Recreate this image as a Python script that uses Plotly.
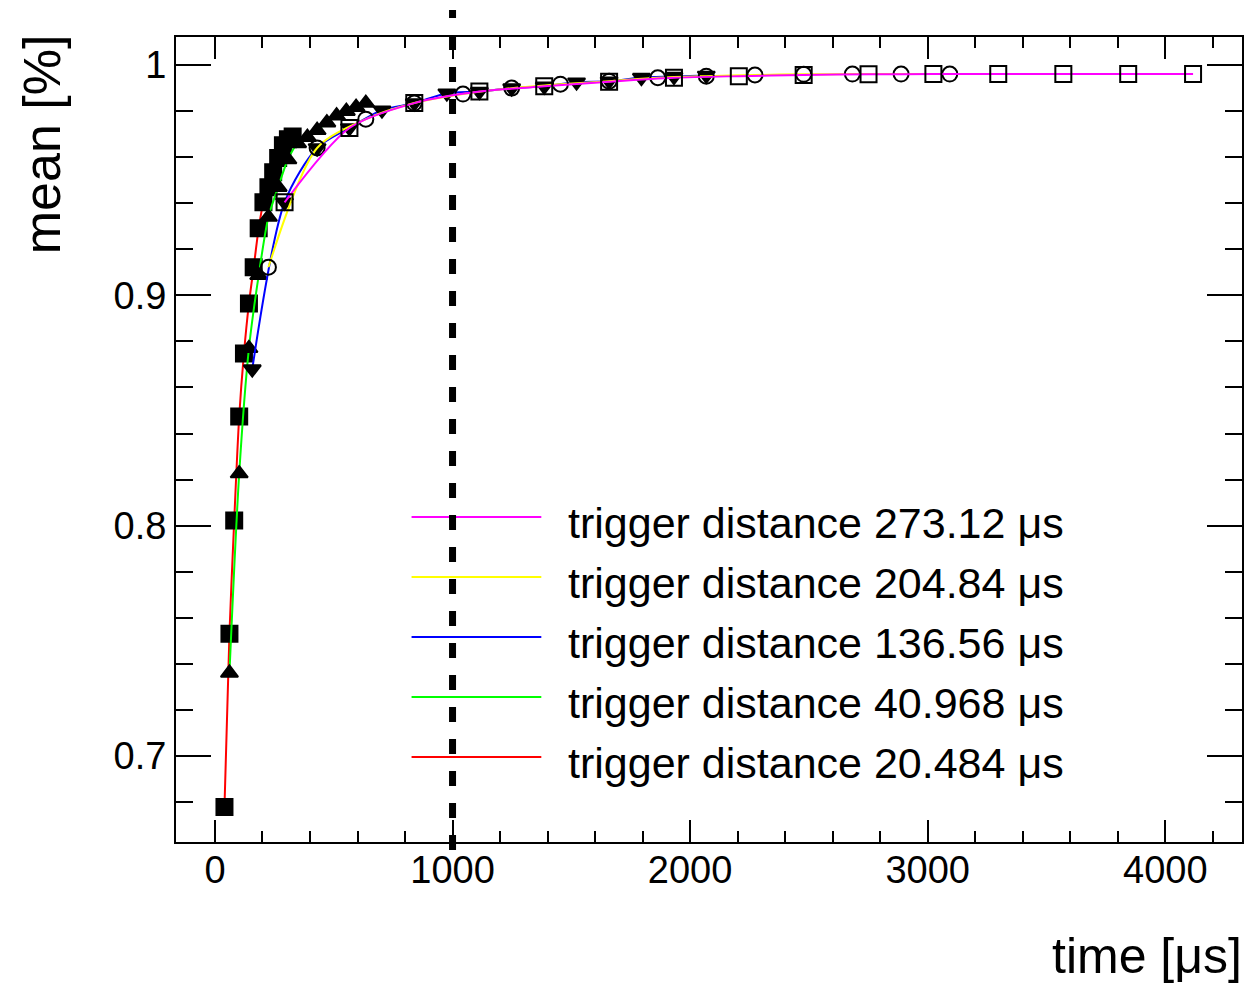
import plotly.graph_objects as go

# ---------------- data ----------------
labels = [
    "trigger distance 273.12 μs",
    "trigger distance 204.84 μs",
    "trigger distance 136.56 μs",
    "trigger distance 40.968 μs",
    "trigger distance 20.484 μs",
]

x_273 = [293, 566, 839, 1113, 1386, 1659, 1932, 2205, 2478, 2751, 3024, 3297, 3571, 3844, 4117]
y_273 = [0.9404, 0.9727, 0.9835, 0.9885, 0.9908, 0.9928, 0.9945, 0.9952, 0.9957, 0.9960,
         0.9961, 0.9961, 0.9961, 0.9961, 0.9961]

x_205 = [225, 430, 635, 839, 1044, 1249, 1454, 1659, 1864, 2068, 2273, 2478, 2683, 2888, 3093]
y_205 = [0.9122, 0.9640, 0.9765, 0.9835, 0.9874, 0.9900, 0.9917, 0.9930, 0.9945, 0.9952,
         0.9957, 0.9960, 0.9961, 0.9961, 0.9961]

x_137 = [157, 293, 430, 566, 703, 839, 976, 1113, 1249, 1386, 1522, 1659, 1795, 1932, 2068]
y_137 = [0.8680, 0.9404, 0.9640, 0.9727, 0.9804, 0.9835, 0.9878, 0.9885, 0.9900, 0.9908,
         0.9926, 0.9930, 0.9946, 0.9950, 0.9955]

x_41 = [61, 102, 143, 184, 225, 266, 307, 348, 389, 430, 471, 512, 553, 594, 635]
y_41 = [0.7360, 0.8226, 0.8770, 0.9087, 0.9340, 0.9470, 0.9590, 0.9660, 0.9687, 0.9717,
        0.9750, 0.9780, 0.9800, 0.9817, 0.9835]

x_20 = [40, 61, 81, 102, 122, 143, 163, 184, 204, 225, 245, 266, 286, 307, 327]
y_20 = [0.6778, 0.7530, 0.8022, 0.8474, 0.8748, 0.8965, 0.9122, 0.9291, 0.9404, 0.9470,
        0.9535, 0.9596, 0.9652, 0.9678, 0.9690]

marker_line_x = 1000          # vertical dashed marker at 1000 us
x_range = [-164, 4323]
y_range = [0.6626, 1.0122]

# ---------------- styling ----------------
colors = ["#ff00ff", "#ffff00", "#0000ff", "#00ff00", "#ff0000"]
symbols = ["square-open", "circle-open", "triangle-down", "triangle-up", "square"]
msizes = [16, 15, 15, 15, 16]
FONT = "Liberation Sans, Arial, Helvetica, sans-serif"

series = [(x_273, y_273), (x_205, y_205), (x_137, y_137), (x_41, y_41), (x_20, y_20)]

fig = go.Figure()
# ROOT draw order: 20.484 first ... 273.12 last
for i in reversed(range(len(series))):
    xs, ys = series[i]
    fig.add_trace(go.Scatter(
        x=xs, y=ys, mode="lines+markers", name=labels[i], showlegend=False,
        line=dict(color=colors[i], width=2, shape="spline", smoothing=0.8),
        marker=dict(symbol=symbols[i], size=msizes[i], color="black",
                    line=dict(color="black", width=2)),
        cliponaxis=False,
    ))

# ---------------- manual ROOT-like legend ----------------
W, H = 1248, 983
ml, mr, mt, mb = 176, 4, 37, 141
pw, ph = W - ml - mr, H - mt - mb


def px_to_paper_x(px):
    return (px - ml) / pw


def px_to_paper_y(py):
    return (H - mb - py) / ph


shapes = []
annotations = []
for i, lab in enumerate(labels):
    ly = 517 + 60 * i
    shapes.append(dict(type="line", xref="paper", yref="paper",
                       x0=px_to_paper_x(412), x1=px_to_paper_x(542),
                       y0=px_to_paper_y(ly), y1=px_to_paper_y(ly),
                       line=dict(color=colors[i], width=2)))
    annotations.append(dict(text=lab, xref="paper", yref="paper",
                            x=px_to_paper_x(567), y=px_to_paper_y(ly + 6),
                            xanchor="left", yanchor="middle", showarrow=False,
                            font=dict(family=FONT, size=43, color="black")))

# vertical dashed line at 1000 us (extends a bit beyond the frame)
shapes.append(dict(type="line", xref="x", yref="paper",
                   x0=marker_line_x, x1=marker_line_x,
                   y0=px_to_paper_y(850), y1=px_to_paper_y(10),
                   line=dict(color="black", width=7, dash="15px,17px")))

# axis titles (ROOT style, right/top aligned)
annotations.append(dict(text="time [μs]", xref="paper", yref="paper",
                        x=px_to_paper_x(1246), y=px_to_paper_y(956),
                        xanchor="right", yanchor="middle", showarrow=False,
                        font=dict(family=FONT, size=50, color="black")))
annotations.append(dict(text="mean [%]", xref="paper", yref="paper",
                        x=px_to_paper_x(42), y=px_to_paper_y(32),
                        xanchor="center", yanchor="top", textangle=-90, showarrow=False,
                        font=dict(family=FONT, size=52, color="black")))

axis_common = dict(
    showgrid=False, zeroline=False, showline=True, linecolor="black", linewidth=2,
    mirror="allticks", ticks="inside", tickcolor="black", tickwidth=2,
    tickfont=dict(family=FONT, size=38, color="black"),
)

fig.update_layout(
    width=W, height=H,
    margin=dict(l=ml, r=mr, t=mt, b=mb),
    paper_bgcolor="white", plot_bgcolor="white",
    showlegend=False,
    xaxis=dict(range=x_range, tickvals=[0, 1000, 2000, 3000, 4000], ticklen=22,
               ticklabelstandoff=-7,
               minor=dict(ticks="inside", dtick=200, tick0=0, ticklen=11, tickwidth=2,
                          tickcolor="black", showgrid=False),
               **axis_common),
    yaxis=dict(range=y_range, tickvals=[0.7, 0.8, 0.9, 1.0], ticktext=["0.7", "0.8", "0.9", "1"],
               ticklen=35,
               minor=dict(ticks="inside", dtick=0.02, tick0=0.7, ticklen=17, tickwidth=2,
                          tickcolor="black", showgrid=False),
               **axis_common),
    shapes=shapes,
    annotations=annotations,
)

fig.write_html("out.html")
